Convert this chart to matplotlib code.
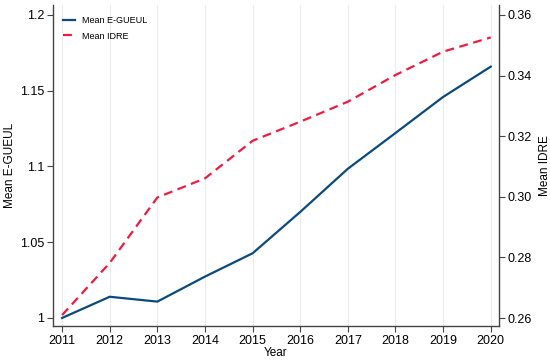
import matplotlib
matplotlib.use("Agg")
from matplotlib import pyplot as plt

plt.rcParams['font.family'] = ['Liberation Sans', 'DejaVu Sans']

years = [2011, 2012, 2013, 2014, 2015, 2016, 2017, 2018, 2019, 2020]
mean_egueul = [1.000, 1.014, 1.0108, 1.0273, 1.0427, 1.070, 1.0985, 1.1221, 1.1459, 1.1659]
mean_idre = [0.261, 0.2782, 0.2998, 0.3061, 0.3185, 0.3248, 0.3314, 0.3402, 0.3479, 0.3526]

blue = '#0b4a7d'
red = '#ee1c3f'


def main():
    fig = plt.figure(figsize=(5.5, 3.64), dpi=100)
    ax = fig.add_axes([0.0964, 0.1044, 0.8106, 0.8819])
    ax2 = ax.twinx()

    l1, = ax.plot(years, mean_egueul, color=blue, lw=1.6, label='Mean E-GUEUL')
    l2, = ax2.plot(years, mean_idre, color=red, lw=1.6, ls=(0, (4, 2.5)), label='Mean IDRE')

    ax.set_xlim(2010.81, 2020.17)
    ax.set_ylim(0.9947, 1.2066)
    ax2.set_ylim(0.2574, 0.3633)

    ax.set_xticks(years)
    ax.set_yticks([1, 1.05, 1.1, 1.15, 1.2])
    ax.set_yticklabels(['1', '1.05', '1.1', '1.15', '1.2'])
    ax2.set_yticks([0.26, 0.28, 0.30, 0.32, 0.34, 0.36])
    ax2.set_yticklabels(['0.26', '0.28', '0.30', '0.32', '0.34', '0.36'])

    ax.grid(axis='x', color='#ececec', lw=0.8)
    ax.set_axisbelow(True)

    for a in (ax, ax2):
        a.spines['top'].set_visible(False)
        for s in a.spines.values():
            s.set_color('#444444')
            s.set_linewidth(1.0)
        a.tick_params(labelsize=9, length=4, width=0.8, color='#444444', pad=2.5)
    ax.spines['right'].set_visible(False)
    ax2.spines['left'].set_visible(False)
    ax2.spines['bottom'].set_visible(False)

    ax.set_xlabel('Year', fontsize=8.5, labelpad=0)
    ax.set_ylabel('Mean E-GUEUL', fontsize=8.5, labelpad=3)
    ax2.set_ylabel('Mean IDRE', fontsize=8.5, labelpad=5)

    ax.legend([l1, l2], ['Mean E-GUEUL', 'Mean IDRE'], loc='upper left',
              frameon=False, fontsize=6.5, handlelength=1.3,
              bbox_to_anchor=(0.005, 0.99), labelspacing=0.7)

    fig.savefig('out.png', dpi=100)


if __name__ == "__main__":
    main()
